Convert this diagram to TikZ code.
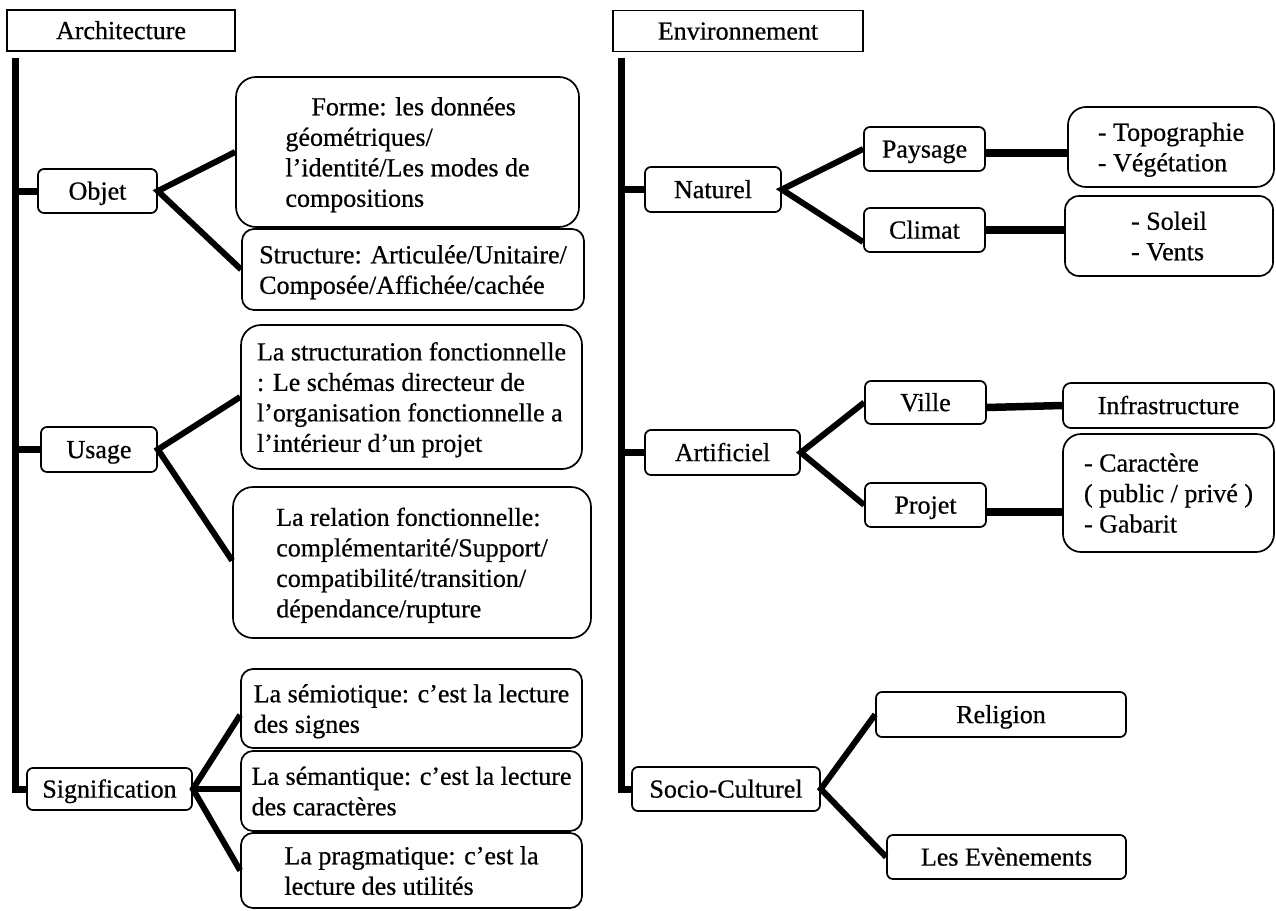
\documentclass[tikz,border=0pt]{standalone}
\usepackage{fontspec}
\setmainfont{Liberation Serif}[FakeBold=0.6]
\begin{document}
\begin{tikzpicture}[x=1pt,y=-1pt,
  box/.style={draw,line width=1.7pt,rounded corners=#1,inner sep=0pt,text depth=0pt,font=\fontsize{26}{30.5}\selectfont},
  box/.default=6pt,
  one/.style={text height=17.2pt},
  multi/.style={align=left},
  head/.style={draw,line width=1.7pt,inner sep=0pt,text height=17.2pt,text depth=0pt,font=\fontsize{26}{30.5}\selectfont},
  conn/.style={line width=6pt},
  hconn/.style={line width=7.5pt},
  trunk/.style={line width=7pt}]
\useasboundingbox (0,0) rectangle (1276,910);
% ---------------- left column ----------------
\node[head,minimum width=228pt,minimum height=41pt] (arch) at (121,30.5) {Architecture};
\node[box,one,minimum width=119pt,minimum height=44pt] (objet) at (97.5,191) {Objet};
\node[box=20pt,multi,minimum width=343pt,minimum height=150pt] (forme) at (407.5,152)
  {\hspace*{26pt}Forme: les données\\géométriques/\\l’identité/Les modes de\\compositions};
\node[box=12pt,multi,minimum width=342pt,minimum height=81pt] (struct) at (413,269.5)
  {Structure: Articulée/Unitaire/\\Composée/Affichée/cachée};
\node[box,one,minimum width=116pt,minimum height=45pt] (usage) at (99,449.5) {Usage};
\node[box=20pt,multi,minimum width=341pt,minimum height=144pt] (structu) at (411.5,397)
  {La structuration fonctionnelle\\: Le schémas directeur de\\l’organisation fonctionnelle a\\l’intérieur d’un projet};
\node[box=20pt,multi,minimum width=358pt,minimum height=151pt] (relation) at (412,562.5)
  {La relation fonctionnelle:\\complémentarité/Support/\\compatibilité/transition/\\dépendance/rupture};
\node[box,one,minimum width=165pt,minimum height=42pt] (signif) at (109.5,789) {Signification};
\node[box=12pt,multi,minimum width=341pt,minimum height=79pt] (semio) at (411.5,708.5)
  {La sémiotique: c’est la lecture\\des signes};
\node[box=12pt,multi,minimum width=341pt,minimum height=80pt] (seman) at (411.5,791)
  {La sémantique: c’est la lecture\\des caractères};
\node[box=12pt,multi,minimum width=341pt,minimum height=75pt] (pragma) at (411.5,870.5)
  {La pragmatique: c’est la\\lecture des utilités};
\coordinate (ltop) at (15,58);
\draw[trunk] (ltop) |- (signif.west);
\draw[trunk] (objet.west -| ltop) -- (objet.west);
\draw[trunk] (usage.west -| ltop) -- (usage.west);
\draw[conn] (forme.west) -- (objet.east) -- (struct.west);
\draw[conn] (structu.west) -- (usage.east) -- ([yshift=2pt]relation.west);
\draw[conn] ([yshift=-6.5pt]semio.west) -- (signif.east) -- (pragma.west);
\draw[conn] (signif.east) -- (signif.east -| seman.west);
% ---------------- right column ----------------
\node[head,minimum width=250pt,minimum height=41pt] (env) at (738,31) {Environnement};
\node[box,one,minimum width=136pt,minimum height=45pt] (natur) at (713,189.5) {Naturel};
\node[box,one,minimum width=121pt,minimum height=44pt] (pays) at (924.5,149) {Paysage};
\node[box,one,minimum width=121pt,minimum height=44pt] (climat) at (924.5,230) {Climat};
\node[box=18pt,multi,minimum width=206pt,minimum height=80pt] (topo) at (1171,147)
  {- Topographie\\- Végétation};
\node[box=14pt,multi,minimum width=208pt,minimum height=80pt] (soleil) at (1169,236)
  {- Soleil\\- Vents};
\node[box,one,minimum width=155pt,minimum height=45pt] (artif) at (722.5,452.5) {Artificiel};
\node[box,one,minimum width=121pt,minimum height=43pt] (ville) at (925.5,402.5) {Ville};
\node[box,one,minimum width=121pt,minimum height=44pt] (projet) at (925.5,505) {Projet};
\node[box=8pt,one,minimum width=211pt,minimum height=45pt] (infra) at (1168.5,405.5) {Infrastructure};
\node[box=18pt,multi,minimum width=211pt,minimum height=118pt] (caract) at (1168.5,493)
  {- Caractère\\( public / privé )\\- Gabarit};
\node[box,one,minimum width=188pt,minimum height=44pt] (socio) at (726,789) {Socio-Culturel};
\node[box,one,minimum width=250pt,minimum height=45pt] (relig) at (1001,714.5) {Religion};
\node[box,one,minimum width=239pt,minimum height=44pt] (event) at (1006.5,857) {Les Evènements};
\coordinate (rtop) at (621,58);
\draw[trunk] (rtop) |- (socio.west);
\draw[trunk] (natur.west -| rtop) -- (natur.west);
\draw[trunk] (artif.west -| rtop) -- (artif.west);
\draw[conn] (pays.west) -- (natur.east) -- ([yshift=-12pt]climat.west);
\draw[hconn] ([yshift=-4pt]pays.east) -- ([yshift=-4pt]pays.east -| topo.west);
\draw[hconn] (climat.east) -- (climat.east -| soleil.west);
\draw[conn] (ville.west) -- (artif.east) -- (projet.west);
\draw[hconn] ([yshift=-5pt]ville.east) -- (infra.west);
\draw[hconn] ([yshift=-7pt]projet.east) -- ([yshift=-7pt]projet.east -| caract.west);
\draw[conn] (relig.west) -- (socio.east) -- (event.west);
\end{tikzpicture}
\end{document}
